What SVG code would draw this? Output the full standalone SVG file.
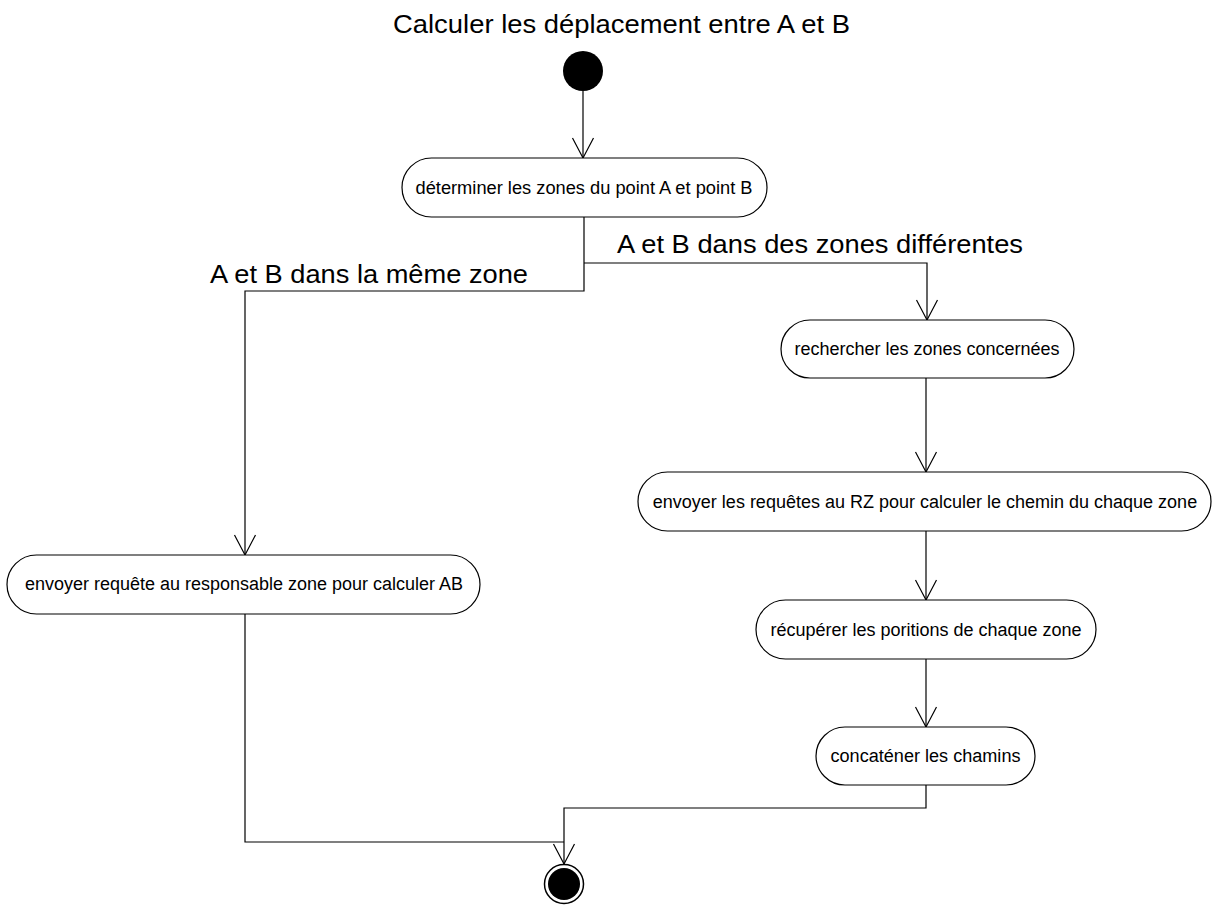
<svg xmlns="http://www.w3.org/2000/svg" width="1213" height="905" viewBox="0 0 1213 905">
<defs>
<marker id="arr" markerUnits="userSpaceOnUse" markerWidth="24" markerHeight="24" viewBox="-22 -12 24 24" refX="0" refY="0" orient="auto">
<path d="M-20,-10.5 L0,0 L-20,10.5" fill="none" stroke="#000" stroke-width="1.2"/>
</marker>
</defs>
<style>
.node rect{fill:#fff;stroke:#000;stroke-width:1.2}
.lbl{font-family:"Liberation Sans",Arial,sans-serif;fill:#000}
.nt{font-size:18px;text-anchor:middle}
.big{font-size:26px}
.conn path{fill:none;stroke:#000;stroke-width:1.2}
</style>
<rect width="1213" height="905" fill="#fff"/>
<text class="lbl big" x="393" y="33" textLength="457" lengthAdjust="spacingAndGlyphs">Calculer les déplacement entre A et B</text>

<g id="conns" class="conn">
<path d="M583,91 L583,158" marker-end="url(#arr)"/>
<path d="M584,217 L584,291 L245,291 L245,555" marker-end="url(#arr)"/>
<path d="M584,263 L927,263 L927,320" marker-end="url(#arr)"/>
<path d="M926,378 L926,472" marker-end="url(#arr)"/>
<path d="M926,531 L926,600" marker-end="url(#arr)"/>
<path d="M926,659 L926,727" marker-end="url(#arr)"/>
<path d="M926,785 L926,808 L564,808 L564,864" marker-end="url(#arr)"/>
<path d="M245,614 L245,842 L564,842"/>
</g>
<text class="lbl big" x="617" y="253" textLength="406" lengthAdjust="spacingAndGlyphs">A et B dans des zones différentes</text>
<text class="lbl big" x="210" y="283" textLength="318" lengthAdjust="spacingAndGlyphs">A et B dans la même zone</text>

<g id="start"><circle cx="583" cy="71" r="20" fill="#000"/></g>

<g id="n1" class="node">
<rect x="402" y="158" width="365" height="59" rx="29.5"/>
<text class="lbl nt" x="584" y="194" textLength="337" lengthAdjust="spacingAndGlyphs">déterminer les zones du point A et point B</text>
</g>
<g id="n2" class="node">
<rect x="7" y="555" width="473" height="59" rx="29.5"/>
<text class="lbl nt" x="244" y="590" textLength="438" lengthAdjust="spacingAndGlyphs">envoyer requête au responsable zone pour calculer AB</text>
</g>
<g id="n3" class="node">
<rect x="781" y="320" width="293" height="58" rx="29"/>
<text class="lbl nt" x="927" y="355">rechercher les zones concernées</text>
</g>
<g id="n4" class="node">
<rect x="638" y="472" width="573" height="59" rx="29.5"/>
<text class="lbl nt" x="925" y="508">envoyer les requêtes au RZ pour calculer le chemin du chaque zone</text>
</g>
<g id="n5" class="node">
<rect x="756" y="600" width="340" height="59" rx="29.5"/>
<text class="lbl nt" x="926" y="636">récupérer les poritions de chaque zone</text>
</g>
<g id="n6" class="node">
<rect x="816" y="727" width="219" height="58" rx="29"/>
<text class="lbl nt" x="925.5" y="762" textLength="190" lengthAdjust="spacingAndGlyphs">concaténer les chamins</text>
</g>

<g id="end">
<circle cx="564" cy="884" r="19.5" fill="#fff" stroke="#000" stroke-width="1.5"/>
<circle cx="564" cy="884" r="16" fill="#000"/>
</g>
</svg>
